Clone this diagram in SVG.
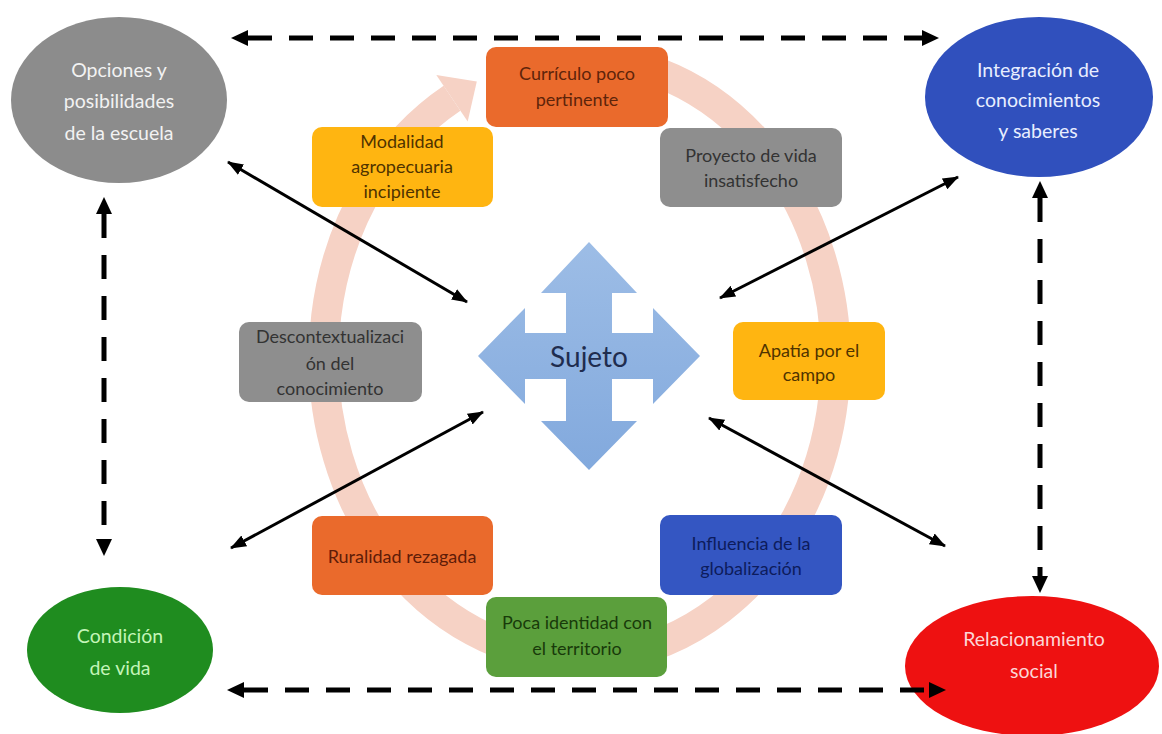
<svg xmlns="http://www.w3.org/2000/svg" width="1162" height="734" viewBox="0 0 1162 734">
<defs>
<style>
.t{font-family:Lato,"Open Sans","Liberation Sans",sans-serif;text-anchor:middle}
.et{font-size:19.5px}
.bt{font-size:18px}
.box{rx:10;ry:10}
.sol{stroke:#000;stroke-width:3;fill:none;marker-start:url(#hs);marker-end:url(#hs)}
.dash{stroke:#000;stroke-width:5;fill:none;stroke-dasharray:24 17;marker-start:url(#hd);marker-end:url(#hd)}
</style>
<marker id="hs" markerUnits="userSpaceOnUse" markerWidth="16" markerHeight="14" refX="15" refY="6" orient="auto-start-reverse" viewBox="0 0 16 12">
<path d="M0,0 L16,6 L0,12 z" fill="#000"/>
</marker>
<marker id="hd" markerUnits="userSpaceOnUse" markerWidth="18" markerHeight="18" refX="0" refY="8" orient="auto-start-reverse" viewBox="0 0 18 16">
<path d="M0,0 L17,8 L0,16 z" fill="#000"/>
</marker>
<linearGradient id="gs" x1="0" y1="0" x2="0" y2="1">
<stop offset="0" stop-color="#9dbde6"/>
<stop offset="1" stop-color="#82a9dd"/>
</linearGradient>
</defs>
<rect width="1162" height="734" fill="#ffffff"/>

<g id="ring">
<path d="M659,73 A256,300 0 1 1 452,98.2" fill="none" stroke="#f6d2c5" stroke-width="30"/>
<polygon points="436.3,75 476.8,81.4 467.7,121.4" fill="#f6d2c5"/>
</g>

<g id="opciones">
<ellipse cx="119" cy="100" rx="108" ry="83" fill="#8c8c8c"/>
<text class="t et" fill="#f2f2f2"><tspan x="119" y="77">Opciones y</tspan><tspan x="119" y="108">posibilidades</tspan><tspan x="119" y="140">de la escuela</tspan></text>
</g>
<g id="integracion">
<ellipse cx="1039" cy="97" rx="114" ry="80" fill="#3050bd"/>
<text class="t et" fill="#e8eeff"><tspan x="1038" y="77">Integración de</tspan><tspan x="1038" y="107">conocimientos</tspan><tspan x="1038" y="138">y saberes</tspan></text>
</g>
<g id="condicion">
<ellipse cx="120" cy="650" rx="93" ry="63" fill="#1f8c1f"/>
<text class="t et" fill="#c4f5b8"><tspan x="120" y="643">Condición</tspan><tspan x="120" y="675">de vida</tspan></text>
</g>
<g id="relacionamiento">
<ellipse cx="1032" cy="666" rx="127" ry="70" fill="#ee1111"/>
<text class="t et" fill="#fcd6d6"><tspan x="1034" y="646">Relacionamiento</tspan><tspan x="1034" y="678">social</tspan></text>
</g>

<g id="curriculo">
<rect class="box" x="486" y="47" width="182" height="80" fill="#ea6a2c"/>
<text class="t bt" fill="#5e240a"><tspan x="577" y="80">Currículo poco</tspan><tspan x="577" y="106">pertinente</tspan></text>
</g>
<g id="modalidad">
<rect class="box" x="312" y="127" width="181" height="80" fill="#ffb511"/>
<text class="t bt" fill="#4f3300"><tspan x="402" y="148">Modalidad</tspan><tspan x="402" y="173">agropecuaria</tspan><tspan x="402" y="198">incipiente</tspan></text>
</g>
<g id="proyecto">
<rect class="box" x="660" y="128" width="182" height="79" fill="#8e8e8e"/>
<text class="t bt" fill="#333333"><tspan x="751" y="162">Proyecto de vida</tspan><tspan x="751" y="187">insatisfecho</tspan></text>
</g>
<g id="apatia">
<rect class="box" x="733" y="322" width="152" height="78" fill="#ffb511"/>
<text class="t bt" fill="#4f3300"><tspan x="809" y="357">Apatía por el</tspan><tspan x="809" y="381">campo</tspan></text>
</g>
<g id="descontextualizacion">
<rect class="box" x="239" y="322" width="183" height="80" fill="#8e8e8e"/>
<text class="t bt" fill="#333333"><tspan x="330" y="343">Descontextualizaci</tspan><tspan x="330" y="370">ón del</tspan><tspan x="330" y="395">conocimiento</tspan></text>
</g>
<g id="ruralidad">
<rect class="box" x="312" y="516" width="181" height="79" fill="#ea6a2c"/>
<text class="t bt" fill="#5e1c08"><tspan x="402" y="563">Ruralidad rezagada</tspan></text>
</g>
<g id="poca">
<rect class="box" x="486" y="597" width="181" height="80" fill="#5b9f3c"/>
<text class="t bt" fill="#183a0a"><tspan x="577" y="629">Poca identidad con</tspan><tspan x="577" y="655">el territorio</tspan></text>
</g>
<g id="influencia">
<rect class="box" x="660" y="515" width="182" height="80" fill="#3456c2"/>
<text class="t bt" fill="#0d1c5c"><tspan x="751" y="550">Influencia de la</tspan><tspan x="751" y="575">globalización</tspan></text>
</g>

<g id="sujeto">
<path d="M589,242 L637,293 L612,293 L612,333 L653,333 L653,308 L700,356 L653,404 L653,379 L612,379 L612,421 L637,421 L589,470 L541,421 L566,421 L566,379 L525,379 L525,404 L478,356 L525,308 L525,333 L566,333 L566,293 L541,293 Z" fill="url(#gs)"/>
<text class="t" x="589" y="367" font-size="28" fill="#1f2d4f">Sujeto</text>
</g>

<g id="connectors">
<line class="dash" x1="248" y1="38" x2="922" y2="38"/>
<line class="dash" x1="244" y1="690" x2="929" y2="690"/>
<line class="dash" x1="104" y1="214" x2="104" y2="539"/>
<line class="dash" x1="1040" y1="198" x2="1040" y2="576"/>
<line class="sol" x1="228" y1="162" x2="467" y2="302"/>
<line class="sol" x1="720" y1="298" x2="958" y2="177"/>
<line class="sol" x1="231" y1="548" x2="483" y2="412"/>
<line class="sol" x1="709" y1="418" x2="945" y2="546"/>
</g>
</svg>
